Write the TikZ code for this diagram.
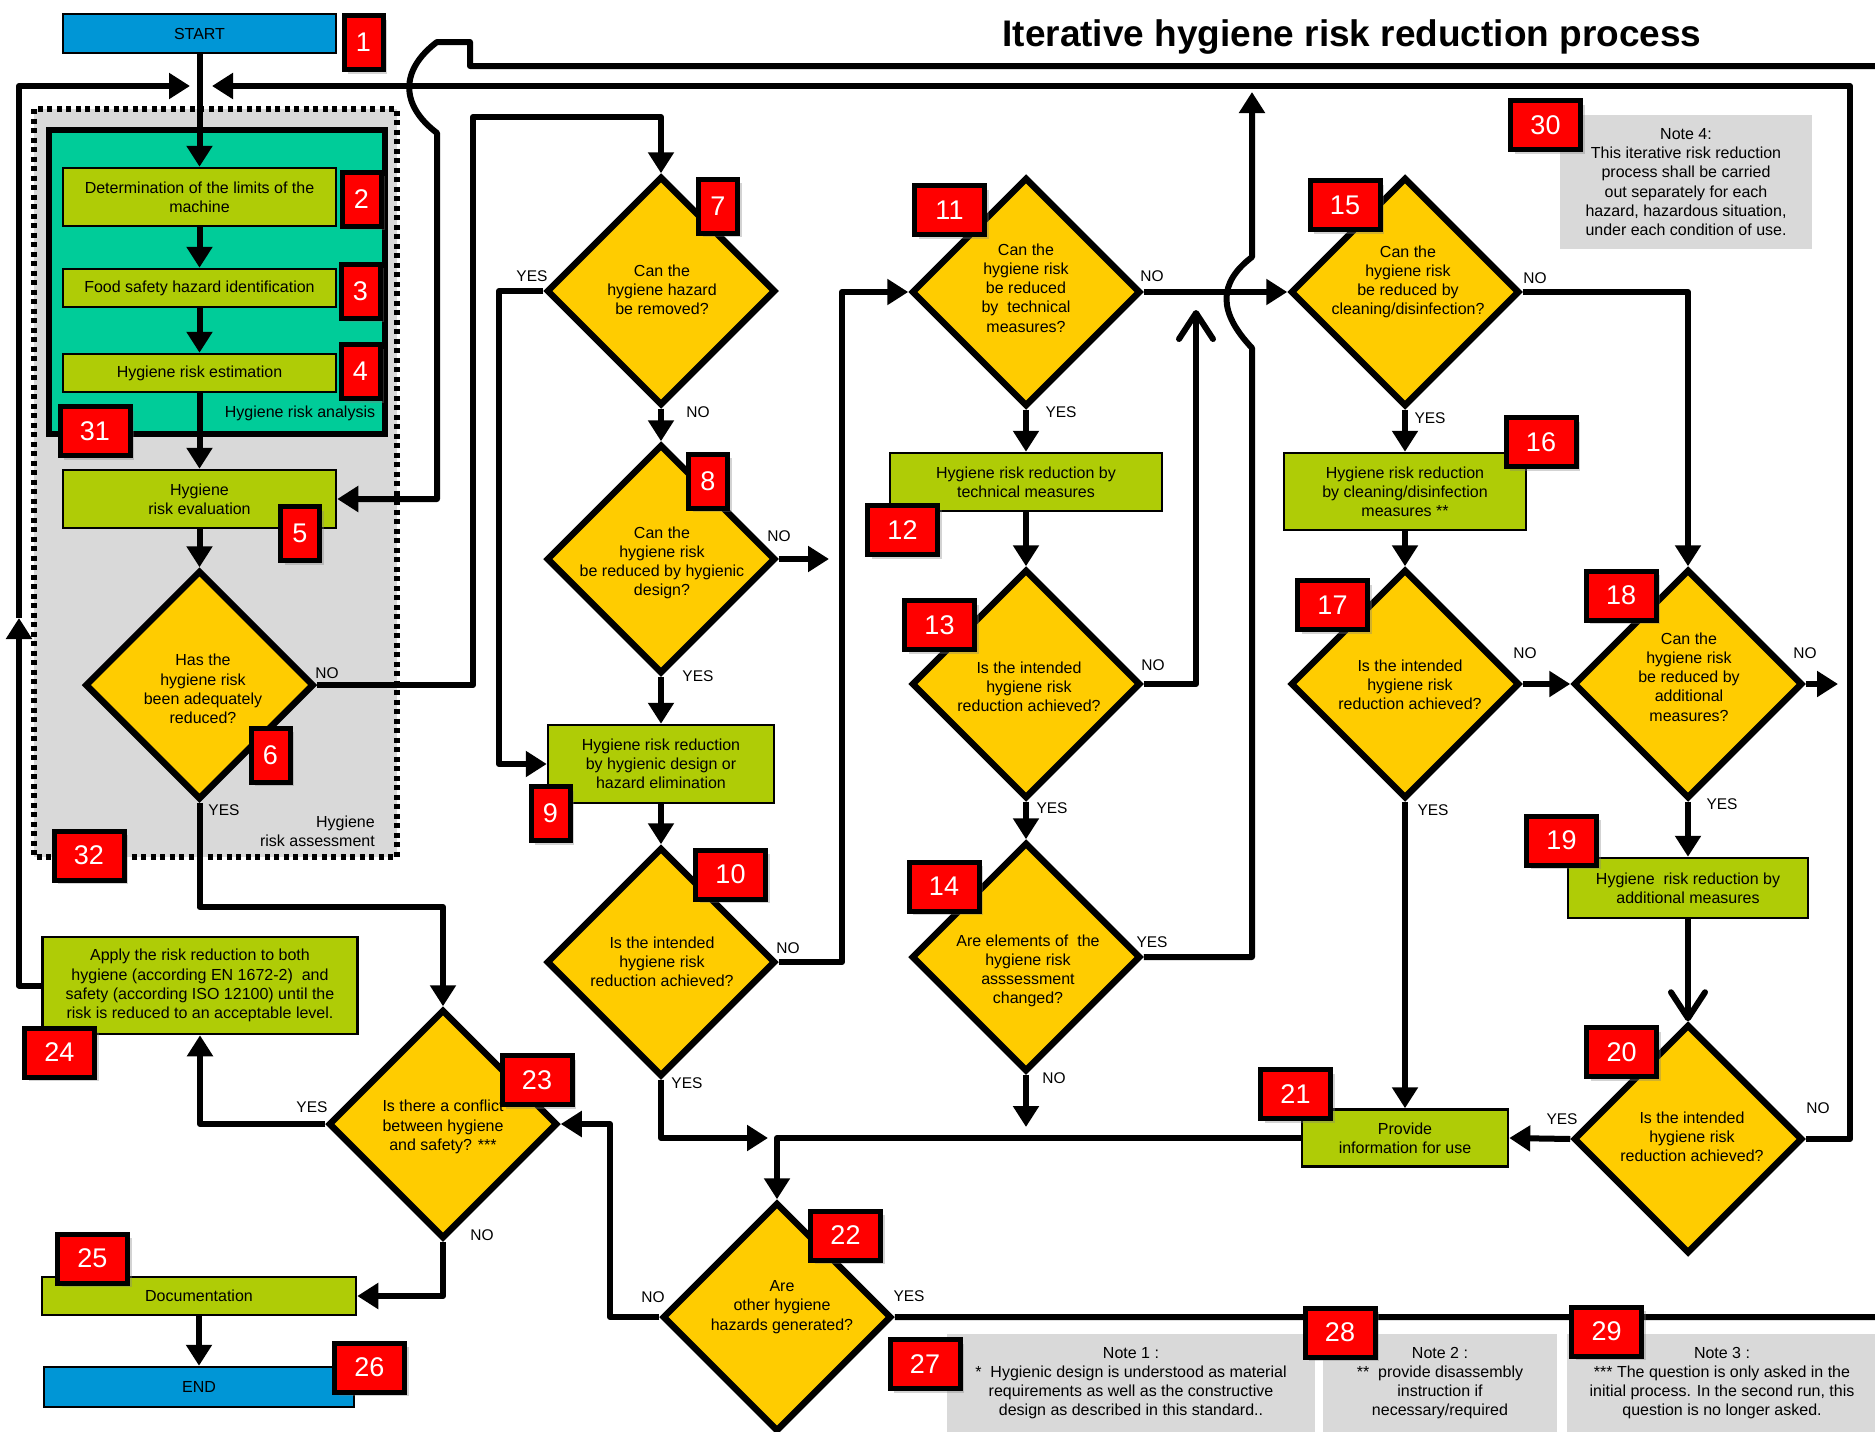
\documentclass[tikz,border=0pt]{standalone}
\usepackage{fontspec}
\setmainfont{Liberation Sans}
\usetikzlibrary{shapes.geometric,arrows.meta,shadows}
\definecolor{cblue}{RGB}{0,150,214}
\definecolor{cgreen}{RGB}{175,204,6}
\definecolor{cteal}{RGB}{0,204,153}
\definecolor{cyel}{RGB}{255,204,0}
\definecolor{cred}{RGB}{255,0,0}
\definecolor{cgray}{RGB}{217,217,217}
\newcommand\myfs{\fontsize{16}{19.2}\selectfont}
\newcommand\lblfs{\fontsize{15.5}{18}\selectfont}
\newcommand\badgefs{\fontsize{27}{27}\selectfont}
\pgfdeclarelayer{back}
\pgfdeclarelayer{conn}
\pgfsetlayers{back,conn,main}
\begin{document}
\begin{tikzpicture}[x=1pt,y=-1pt,
  box/.style={draw=black,line width=2.5pt,fill=cgreen,align=center,font=\myfs,inner sep=0pt},
  term/.style={box,fill=cblue},
  dia/.style={diamond,draw=black,line width=6.5pt,fill=cyel,minimum width=229pt,minimum height=229pt,inner sep=0pt},
  dtxt/.style={align=center,font=\myfs,inner sep=0pt},
  badge/.style={draw=black,line width=5pt,fill=cred,text=white,font=\badgefs,inner sep=0pt,drop shadow={shadow xshift=4pt,shadow yshift=-4pt,opacity=0.35}},
  bs/.style={badge,minimum width=39pt,minimum height=54pt},
  bw/.style={badge,minimum width=70pt,minimum height=49pt},
  lbl/.style={font=\lblfs,inner sep=0pt},
  note/.style={fill=cgray,align=center,font=\myfs,inner sep=0pt},
  conn/.style={line width=6pt,line join=round},
  arr/.style={conn,-{Triangle[length=21pt,width=25pt]}},
  oarr/.style={conn,-{Straight Barb[length=26pt,width=34pt,round]}},
]
\useasboundingbox (0,0) rectangle (1875,1432);

% background regions
\begin{pgfonlayer}{back}
\draw[fill=cgray,line width=6pt,dash pattern=on 5pt off 4.5pt] (34,109) rectangle (397,857);
\draw[fill=cteal,line width=6pt] (49,130) rectangle (385,434);
\end{pgfonlayer}

% title
\node[font=\fontsize{37}{40}\selectfont\bfseries,anchor=base,inner sep=0pt] (title) at (1352,46) {Iterative hygiene risk reduction process};

% boxes
\node[term,minimum width=273pt,minimum height=39pt] (start) at (199.5,33.5) {START};
\node[box,minimum width=273pt,minimum height=58pt] (b2) at (199.5,197) {Determination of the limits of the\\machine};
\node[box,minimum width=273pt,minimum height=38pt] (b3) at (199.5,288) {Food safety hazard identification};
\node[box,minimum width=273pt,minimum height=38pt] (b4) at (199.5,373) {Hygiene risk estimation};
\node[box,minimum width=273pt,minimum height=58pt] (b5) at (199.5,499) {Hygiene\\risk evaluation};
\node[font=\myfs,inner sep=0pt] (lana) at (300,413) {Hygiene risk analysis};
\node[font=\myfs,inner sep=0pt,align=right,anchor=east] (lass) at (375,831) {Hygiene\\risk assessment};

\node[dia] (d6) at (199.5,685) {};
\node[dtxt] (t6) at (203,689) {Has the\\hygiene risk\\been adequately\\reduced?};
\node[dia] (d7) at (661,291) {};
\node[dtxt] (t7) at (662,290) {Can the\\hygiene hazard\\be removed?};
\node[dia] (d8) at (661,559) {};
\node[dtxt] (t8) at (662,563) {Can the\\hygiene risk\\be reduced by hygienic\\design?};
\node[box,minimum width=226pt,minimum height=78pt] (b9) at (661,764) {Hygiene risk reduction\\by hygienic design or\\hazard elimination};
\node[dia] (d10) at (661,962) {};
\node[dtxt] (t10) at (662,962) {Is the intended\\hygiene risk\\reduction achieved?};
\node[dia] (d11) at (1026,292) {};
\node[dtxt] (t11) at (1026,288) {Can the\\hygiene risk\\be reduced\\by\ \ technical\\measures?};
\node[box,minimum width=272pt,minimum height=58pt] (b12) at (1026,482) {Hygiene risk reduction by\\technical measures};
\node[dia] (d13) at (1026,684) {};
\node[dtxt] (t13) at (1029,687) {Is the intended\\hygiene risk\\reduction achieved?};
\node[dia] (d14) at (1026,957) {};
\node[dtxt] (t14) at (1028,971) {Are elements of\ \ the\\hygiene risk\\asssessment\\changed?};
\node[dia] (d15) at (1405,292) {};
\node[dtxt] (t15) at (1408,282) {Can the\\hygiene risk\\be reduced by\\cleaning/disinfection?};
\node[box,minimum width=242pt,minimum height=77pt] (b16) at (1405,491.5) {Hygiene risk reduction\\by cleaning/disinfection\\measures **};
\node[dia] (d17) at (1405,684) {};
\node[dtxt] (t17) at (1410,685) {Is the intended\\hygiene risk\\reduction achieved?};
\node[dia] (d18) at (1688,684) {};
\node[dtxt] (t18) at (1689,677) {Can the\\hygiene risk\\be reduced by\\additional\\measures?};
\node[box,minimum width=240pt,minimum height=60pt] (b19) at (1688,888) {Hygiene\ \ risk reduction by\\additional measures};
\node[dia] (d20) at (1688,1139) {};
\node[dtxt] (t20) at (1692,1137) {Is the intended\\hygiene risk\\reduction achieved?};
\node[box,minimum width=206pt,minimum height=57pt] (b21) at (1405,1138) {Provide\\information for use};
\node[dia] (d22) at (777,1317) {};
\node[dtxt] (t22) at (782,1307) {Are\\other hygiene\\hazards generated?};
\node[dia] (d23) at (443,1124) {};
\node[dtxt] (t23) at (443,1127) {Is there a conflict\\between hygiene\\and safety? ***};
\node[box,minimum width=315pt,minimum height=97pt] (b24) at (200,985.5) {Apply the risk reduction to both\\hygiene (according EN 1672-2)\ \ and\\safety (according ISO 12100) until the\\risk is reduced to an acceptable level.};
\node[box,minimum width=314pt,minimum height=38pt] (b25) at (199,1296) {Documentation};
\node[term,minimum width=310pt,minimum height=40pt] (end) at (199,1387) {END};

% notes
\node[note,minimum width=252pt,minimum height=134pt] (n4) at (1686,182) {Note 4:\\This iterative risk reduction\\process shall be carried\\out separately for each\\hazard, hazardous situation,\\under each condition of use.};
\node[note,minimum width=368pt,minimum height=98pt] (n1) at (1131,1383) {Note 1 :\\*\ \ Hygienic design is understood as material\\requirements as well as the constructive\\design as described in this standard..};
\node[note,minimum width=234pt,minimum height=98pt] (n2) at (1440,1383) {Note 2 :\\**\ \ provide disassembly\\instruction if\\necessary/required};
\node[note,minimum width=311pt,minimum height=98pt] (n3) at (1722,1383) {Note 3 :\\*** The question is only asked in the\\initial process. In the second run, this\\question is no longer asked.};

% connectors
\coordinate (p8) at (829,559);
\coordinate (p10) at (768,1138);
\coordinate (p13) at (1196,310);
\coordinate (p14) at (1252,92);
\coordinate (p14n) at (1026,1127);
\coordinate (p18) at (1838,684);
\coordinate (ptop) at (212,86);
\coordinate (pmid) at (19,618);
\coordinate (pleft) at (190,86);
\begin{pgfonlayer}{conn}
\draw[arr] (start.south) -- (b2.north);
\draw[arr] (b2.south) -- (b3.north);
\draw[arr] (b3.south) -- (b4.north);
\draw[arr] (b4.south) -- (b5.north);
\draw[arr] (b5.south) -- (d6.north);
\draw[arr] (d6.east) -- (473,685) -- (473,117) -- (661,117) -- (d7.north);
\draw[arr] (d7.west) -- (499,291) -- (499,764) -- (b9.west);
\draw[arr] (d7.south) -- (d8.north);
\draw[arr] (d8.east) -- (p8);
\draw[arr] (d8.south) -- (b9.north);
\draw[arr] (b9.south) -- (d10.north);
\draw[arr] (d10.east) -- (842,962) -- (842,292) -- (d11.west);
\draw[arr] (d10.south) -- (661,1138) -- (p10);
\draw[arr] (d11.south) -- (b12.north);
\draw[arr] (d11.east) -- (d15.west);
\draw[arr] (b12.south) -- (d13.north);
\draw[oarr] (d13.east) -- (1196,684) -- (p13);
\draw[arr] (d13.south) -- (d14.north);
\draw[arr] (d14.east) -- (1252,957) -- (1252,348) .. controls (1218,312) and (1218,283) .. (1252,257) -- (p14);
\draw[arr] (d14.south) -- (p14n);
\draw[arr] (d15.south) -- (b16.north);
\draw[arr] (d15.east) -- (1688,292) -- (d18.north);
\draw[arr] (b16.south) -- (d17.north);
\draw[arr] (d17.east) -- (d18.west);
\draw[arr] (d17.south) -- (b21.north);
\draw[arr] (d18.east) -- (p18);
\draw[arr] (d18.south) -- (b19.north);
\draw[oarr] (b19.south) -- (d20.north);
\draw[arr] (d20.west) -- (b21.east);
\draw[arr] (d20.east) -- (1850,1139) -- (1850,86) -- (ptop);
\draw[arr] (b21.west) -- (777,1138) -- (d22.north);
\draw[arr] (d22.west) -- (610,1317) -- (610,1124) -- (d23.east);
\draw[arr] (d22.east) -- (1895,1317) -- (1895,66) -- (470,66) -- (470,42) -- (437,42) .. controls (400,70) and (400,105) .. (437,133) -- (437,499) -- (b5.east);
\draw[arr] (d6.south) -- (199.5,907) -- (443,907) -- (d23.north);
\draw[arr] (d23.west) -- (200,1124) -- (b24.south);
\draw[arr] (d23.south) -- (443,1296) -- (b25.east);
\draw[arr] (b25.south) -- (end.north);
\draw[arr] (b24.west) -- (19,985.5) -- (pmid);
\draw[arr] (pmid) -- (19,86) -- (pleft);
\end{pgfonlayer}

% labels
\node[lbl] (l6n) at (327,673) {NO};
\node[lbl] (l6y) at (224,810) {YES};
\node[lbl] (l7y) at (532,276) {YES};
\node[lbl] (l7n) at (698,412) {NO};
\node[lbl] (l8n) at (779,536) {NO};
\node[lbl] (l8y) at (698,676) {YES};
\node[lbl] (l10n) at (788,948) {NO};
\node[lbl] (l10y) at (687,1083) {YES};
\node[lbl] (l11n) at (1152,276) {NO};
\node[lbl] (l11y) at (1061,412) {YES};
\node[lbl] (l13n) at (1153,665) {NO};
\node[lbl] (l13y) at (1052,808) {YES};
\node[lbl] (l14y) at (1152,942) {YES};
\node[lbl] (l14n) at (1054,1078) {NO};
\node[lbl] (l15n) at (1535,278) {NO};
\node[lbl] (l15y) at (1430,418) {YES};
\node[lbl] (l17n) at (1525,653) {NO};
\node[lbl] (l17y) at (1433,810) {YES};
\node[lbl] (l18n) at (1805,653) {NO};
\node[lbl] (l18y) at (1722,804) {YES};
\node[lbl] (l20y) at (1562,1119) {YES};
\node[lbl] (l20n) at (1818,1108) {NO};
\node[lbl] (l22n) at (653,1297) {NO};
\node[lbl] (l22y) at (909,1296) {YES};
\node[lbl] (l23y) at (312,1107) {YES};
\node[lbl] (l23n) at (482,1235) {NO};

% badges
\node[bs] (c1) at (363.5,42.5) {1};
\node[bs] (c2) at (361.5,199) {2};
\node[bs] (c3) at (360.5,291) {3};
\node[bs] (c4) at (360.5,371.5) {4};
\node[bs] (c5) at (300,533.5) {5};
\node[bs] (c6) at (270.5,755) {6};
\node[bs] (c7) at (718,206) {7};
\node[bs] (c8) at (708,481) {8};
\node[bs] (c9) at (550.5,813.5) {9};
\node[bw] (c10) at (730.5,874.5) {10};
\node[bw] (c11) at (949.5,210) {11};
\node[bw] (c12) at (902.5,530) {12};
\node[bw] (c13) at (939.5,625) {13};
\node[bw] (c14) at (944,886.5) {14};
\node[bw] (c15) at (1345,205) {15};
\node[bw] (c16) at (1541,442) {16};
\node[bw] (c17) at (1332.5,605) {17};
\node[bw] (c18) at (1621,595.5) {18};
\node[bw] (c19) at (1561.5,840.5) {19};
\node[bw] (c20) at (1621.5,1052) {20};
\node[bw] (c21) at (1295.5,1094) {21};
\node[bw] (c22) at (845.5,1235.5) {22};
\node[bw] (c23) at (537,1080) {23};
\node[bw] (c24) at (59.5,1052.5) {24};
\node[bw] (c25) at (92.5,1258.5) {25};
\node[bw] (c26) at (369.5,1367.5) {26};
\node[bw] (c27) at (925,1364) {27};
\node[bw] (c28) at (1340,1332.5) {28};
\node[bw] (c29) at (1606.5,1331.5) {29};
\node[bw] (c30) at (1545.5,125) {30};
\node[bw] (c31) at (95,431) {31};
\node[bw] (c32) at (89,855.5) {32};
\end{tikzpicture}
\end{document}
